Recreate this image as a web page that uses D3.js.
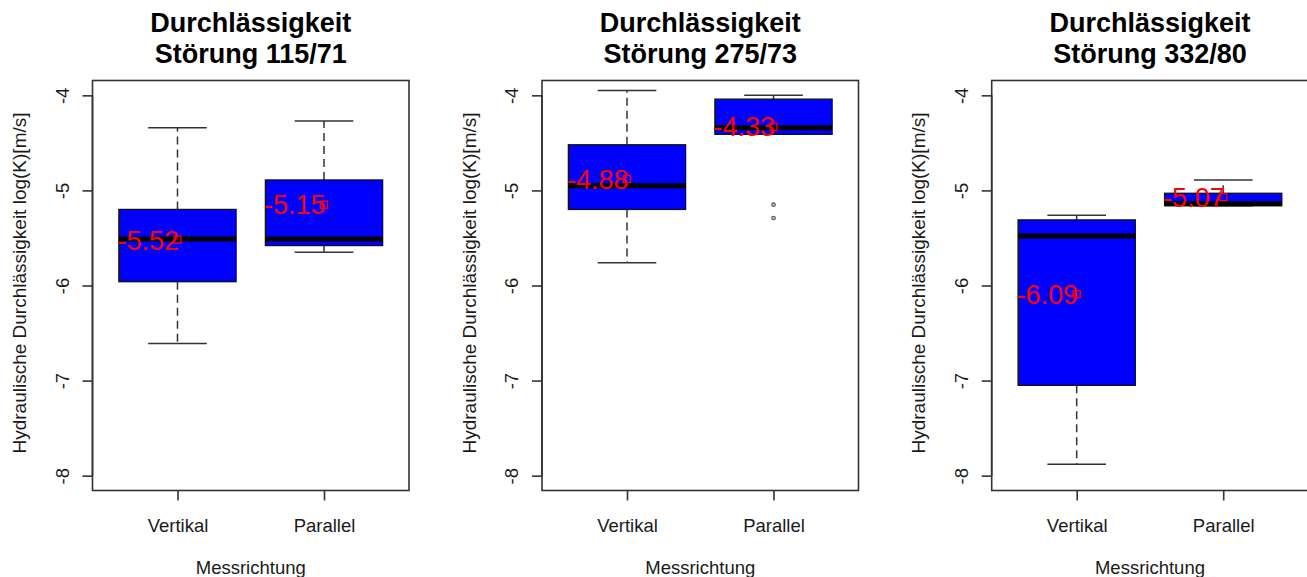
<!DOCTYPE html>
<html>
<head>
<meta charset="utf-8">
<script src="https://cdn.jsdelivr.net/npm/d3@7"></script>
<style>
  html, body { margin: 0; padding: 0; background: #fff; }
  svg { display: block; font-family: Arial, "Liberation Sans", sans-serif; }
</style>
</head>
<body>
<svg id="chart" width="1307" height="577"></svg>
<script>
// ---- data ----
const categories = ["Vertikal", "Parallel"];
const panelTitles = ["Störung 115/71", "Störung 275/73", "Störung 332/80"];
const titleLine1 = "Durchlässigkeit";
const yTicks = [-4, -5, -6, -7, -8];
const yLabel = "Hydraulische Durchlässigkeit log(K)[m/s]";
const xLabel = "Messrichtung";

// five-number summaries per panel: [lowerWhisker, Q1, median, Q3, upperWhisker] for Vertikal, Parallel
const stats115 = [[-6.61, -5.96, -5.51, -5.20, -4.34], [-5.65, -5.58, -5.51, -4.89, -4.27]];
const stats275 = [[-5.76, -5.20, -4.95, -4.52, -3.95], [-4.41, -4.41, -4.34, -4.04, -4.00]];
const stats332 = [[-7.88, -7.05, -5.48, -5.31, -5.26], [-5.16, -5.16, -5.14, -5.03, -4.89]];
const means115 = [-5.52, -5.15];
const means275 = [-4.88, -4.33];
const means332 = [-6.09, -5.07];
const outliers115 = [[], []];
const outliers275 = [[], [-5.15, -5.29]];
const outliers332 = [[], []];

const panels = [
  { title: panelTitles[0], stats: stats115, means: means115, outliers: outliers115 },
  { title: panelTitles[1], stats: stats275, means: means275, outliers: outliers275 },
  { title: panelTitles[2], stats: stats332, means: means332, outliers: outliers332 }
];

// ---- layout ----
const svg = d3.select("#chart");
const plotLefts = [92.5, 542, 991.7];
const plotW = 316.5;
const plotTop = 80.5, plotBottom = 490.5;
const frameColor = "#333";
const textColor = "#1a1a1a";

const y = d3.scaleLinear().domain([-8.156, -3.844]).range([plotBottom, plotTop]);

panels.forEach((p, pi) => {
  const left = plotLefts[pi];
  const x = d3.scaleLinear().domain([0.42, 2.58]).range([left, left + plotW]);
  const g = svg.append("g");
  const cx = left + plotW / 2;

  // titles
  g.append("text").attr("x", cx).attr("y", 31.5).attr("text-anchor", "middle")
    .attr("font-size", 27).attr("font-weight", "bold").attr("fill", "#000").text(titleLine1);
  g.append("text").attr("x", cx).attr("y", 63).attr("text-anchor", "middle")
    .attr("font-size", 27).attr("font-weight", "bold").attr("fill", "#000").text(p.title);

  // boxes
  p.stats.forEach((s, i) => {
    const c = x(i + 1);
    const hw = x(0.4) - x(0);
    const sw = x(0.2) - x(0);
    const [lo, q1, med, q3, hi] = s;
    // whiskers (dashed)
    g.append("line").attr("x1", c).attr("x2", c).attr("y1", y(q3)).attr("y2", y(hi))
      .attr("stroke", frameColor).attr("stroke-width", 1.5).attr("stroke-dasharray", "8,5");
    g.append("line").attr("x1", c).attr("x2", c).attr("y1", y(q1)).attr("y2", y(lo))
      .attr("stroke", frameColor).attr("stroke-width", 1.5).attr("stroke-dasharray", "8,5");
    // staples
    [lo, hi].forEach(v => {
      g.append("line").attr("x1", c - sw).attr("x2", c + sw).attr("y1", y(v)).attr("y2", y(v))
        .attr("stroke", frameColor).attr("stroke-width", 1.5);
    });
    // box
    g.append("rect").attr("x", c - hw).attr("y", y(q3)).attr("width", 2 * hw)
      .attr("height", y(q1) - y(q3)).attr("fill", "#0000ff")
      .attr("stroke", "#111").attr("stroke-width", 1.3);
    // median
    g.append("line").attr("x1", c - hw).attr("x2", c + hw).attr("y1", y(med)).attr("y2", y(med))
      .attr("stroke", "#000").attr("stroke-width", 5);
    // outliers
    p.outliers[i].forEach(v => {
      g.append("circle").attr("cx", c).attr("cy", y(v)).attr("r", 1.8)
        .attr("fill", "#bbb").attr("stroke", "#555").attr("stroke-width", 1.1);
    });
  });

  // means
  p.means.forEach((m, i) => {
    const c = x(i + 1);
    g.append("rect").attr("x", c - 3.5).attr("y", y(m) - 3.5).attr("width", 7).attr("height", 7)
      .attr("fill", "none").attr("stroke", "#ff0000").attr("stroke-width", 1.3);
    g.append("text").attr("x", x(i + 1 - 0.2)).attr("y", y(m)).attr("dy", "0.36em")
      .attr("text-anchor", "middle").attr("font-size", 27).attr("fill", "#ff0000")
      .text(d3.format(".2f")(m).replace("−", "-"));
  });

  // frame
  g.append("rect").attr("x", left).attr("y", plotTop).attr("width", plotW)
    .attr("height", plotBottom - plotTop).attr("fill", "none")
    .attr("stroke", frameColor).attr("stroke-width", 1.6);

  // y axis
  const yAxis = d3.axisLeft(y).tickValues(yTicks).tickSize(10).tickFormat(d => String(d));
  const ya = g.append("g").attr("transform", `translate(${left},0)`).call(yAxis);
  ya.select(".domain").attr("stroke", frameColor).attr("stroke-width", 1.6)
    .attr("d", `M0,${y(-4)}V${y(-8)}`);
  ya.selectAll(".tick line").attr("stroke", frameColor).attr("stroke-width", 1.6);
  ya.selectAll(".tick text").attr("font-size", 18.5).attr("fill", textColor)
    .attr("x", null).attr("dy", null).attr("text-anchor", "middle")
    .attr("transform", "translate(-24,0) rotate(-90)");

  // x axis
  const xAxis = d3.axisBottom(x).tickValues([1, 2]).tickSize(10).tickFormat(d => categories[d - 1]);
  const xa = g.append("g").attr("transform", `translate(0,${plotBottom})`).call(xAxis);
  xa.select(".domain").attr("stroke", "none");
  xa.selectAll(".tick line").attr("stroke", frameColor).attr("stroke-width", 1.6);
  xa.selectAll(".tick text").attr("font-size", 18.5).attr("fill", textColor)
    .attr("y", 41).attr("dy", null);

  // axis labels
  g.append("text").attr("x", cx).attr("y", 573.5).attr("text-anchor", "middle")
    .attr("font-size", 18.5).attr("fill", textColor).text(xLabel);
  g.append("text").attr("transform", `translate(${left - 66.5},283) rotate(-90)`)
    .attr("text-anchor", "middle").attr("font-size", 19).attr("fill", textColor).text(yLabel);
});
</script>
</body>
</html>
